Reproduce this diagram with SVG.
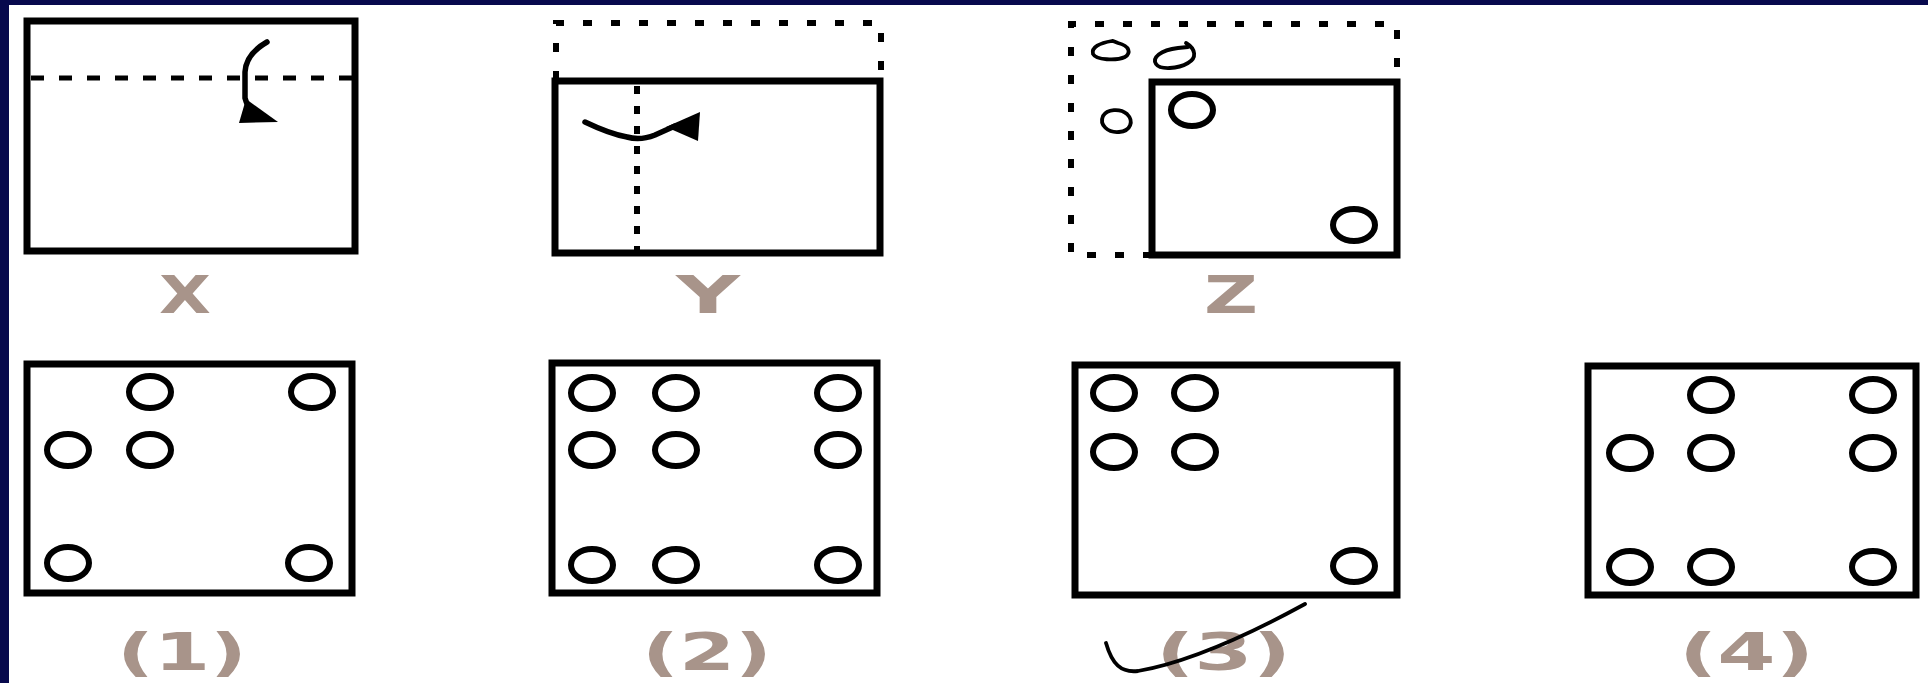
<svg xmlns="http://www.w3.org/2000/svg" width="1928" height="683" viewBox="0 0 1928 683">
<style>
.box{fill:none;stroke:#000;stroke-width:7}
.hole{fill:none;stroke:#000;stroke-width:6}
.dash{fill:none;stroke:#000;stroke-width:5;stroke-dasharray:13 15}
.dot{fill:none;stroke:#000;stroke-width:6;stroke-dasharray:9 19}
.pen{fill:none;stroke:#000;stroke-width:3.8;stroke-linecap:round}
.fold{fill:none;stroke:#000;stroke-width:5.5;stroke-linecap:round}
.lbl{font-family:"DejaVu Sans","Liberation Sans",sans-serif;font-weight:bold;font-size:52px;fill:#a8948a;text-anchor:start}
</style>
<rect width="1928" height="683" fill="#fff"/>
<rect x="0" y="0" width="1928" height="5" fill="#07094d"/>
<rect x="0" y="0" width="9" height="683" fill="#07094d"/>

<g id="nodeX">
<rect class="box" x="27" y="21" width="328" height="230"/>
<line class="dash" x1="31" y1="78" x2="352" y2="78"/>
<path class="fold" d="M267,42 Q246,54 245,72 L245,98 Q247,106 252,110"/>
<polygon points="239,123 278,122 246,99" fill="#000"/>
<text class="lbl" x="159" y="313" textLength="52" lengthAdjust="spacingAndGlyphs">X</text>
</g>

<g id="nodeY">
<path class="dot" d="M556,80 L556,23 L881,23 L881,80"/>
<rect class="box" x="555" y="81" width="325" height="172"/>
<line class="dot" x1="637" y1="86" x2="637" y2="250" style="stroke-dasharray:8 12"/>
<path class="fold" d="M585,122 Q610,134 627,137 Q640,141 655,135 L675,126"/>
<polygon points="666,127 700,112 698,141" fill="#000"/>
<text class="lbl" x="676" y="313" textLength="64" lengthAdjust="spacingAndGlyphs">Y</text>
</g>

<g id="nodeZ">
<path class="dot" d="M1152,255 L1071,255 L1071,24 L1397,24 L1397,80"/>
<rect class="box" x="1152" y="82" width="245" height="173"/>
<ellipse class="hole" cx="1192" cy="110" rx="21" ry="16"/>
<ellipse class="hole" cx="1354" cy="225" rx="21" ry="16"/>
<path class="pen" d="M1112,41 C1100,43 1091,47 1093,54 C1096,60 1116,61 1125,57 C1131,53 1130,46 1118,43 L1113,41"/>
<path class="pen" d="M1186,43 C1196,49 1197,58 1188,63 C1178,69 1160,70 1156,64 C1152,58 1160,50 1178,48 L1188,47"/>
<path class="pen" d="M1103,116 C1099,125 1108,133 1119,132 C1131,131 1134,121 1127,114 C1120,108 1107,109 1103,116 Z"/>
<text class="lbl" x="1204" y="313" textLength="54" lengthAdjust="spacingAndGlyphs">Z</text>
</g>

<g id="node1">
<rect class="box" x="27" y="364" width="325" height="229"/>
<ellipse class="hole" cx="150" cy="392" rx="21" ry="16"/>
<ellipse class="hole" cx="312" cy="392" rx="21" ry="16"/>
<ellipse class="hole" cx="68" cy="450" rx="21" ry="16"/>
<ellipse class="hole" cx="150" cy="450" rx="21" ry="16"/>
<ellipse class="hole" cx="68" cy="563" rx="21" ry="16"/>
<ellipse class="hole" cx="309" cy="563" rx="21" ry="16"/>
<text class="lbl" x="117" y="670" textLength="130" lengthAdjust="spacingAndGlyphs">(1)</text>
</g>

<g id="node2">
<rect class="box" x="552" y="363" width="325" height="230"/>
<ellipse class="hole" cx="592" cy="393" rx="21" ry="16"/>
<ellipse class="hole" cx="676" cy="393" rx="21" ry="16"/>
<ellipse class="hole" cx="838" cy="393" rx="21" ry="16"/>
<ellipse class="hole" cx="592" cy="450" rx="21" ry="16"/>
<ellipse class="hole" cx="676" cy="450" rx="21" ry="16"/>
<ellipse class="hole" cx="838" cy="450" rx="21" ry="16"/>
<ellipse class="hole" cx="592" cy="565" rx="21" ry="16"/>
<ellipse class="hole" cx="676" cy="565" rx="21" ry="16"/>
<ellipse class="hole" cx="838" cy="565" rx="21" ry="16"/>
<text class="lbl" x="642" y="670" textLength="130" lengthAdjust="spacingAndGlyphs">(2)</text>
</g>

<g id="node3">
<rect class="box" x="1075" y="365" width="322" height="230"/>
<ellipse class="hole" cx="1114" cy="393" rx="21" ry="16"/>
<ellipse class="hole" cx="1195" cy="393" rx="21" ry="16"/>
<ellipse class="hole" cx="1114" cy="452" rx="21" ry="16"/>
<ellipse class="hole" cx="1195" cy="452" rx="21" ry="16"/>
<ellipse class="hole" cx="1354" cy="566" rx="21" ry="16"/>
<text class="lbl" x="1156" y="670" textLength="135" lengthAdjust="spacingAndGlyphs">(3)</text>
<path class="pen" d="M1106,643 C1112,664 1121,673 1138,671 C1190,662 1250,634 1305,604"/>
</g>

<g id="node4">
<rect class="box" x="1588" y="366" width="328" height="229"/>
<ellipse class="hole" cx="1711" cy="395" rx="21" ry="16"/>
<ellipse class="hole" cx="1873" cy="395" rx="21" ry="16"/>
<ellipse class="hole" cx="1630" cy="453" rx="21" ry="16"/>
<ellipse class="hole" cx="1711" cy="453" rx="21" ry="16"/>
<ellipse class="hole" cx="1873" cy="453" rx="21" ry="16"/>
<ellipse class="hole" cx="1630" cy="567" rx="21" ry="16"/>
<ellipse class="hole" cx="1711" cy="567" rx="21" ry="16"/>
<ellipse class="hole" cx="1873" cy="567" rx="21" ry="16"/>
<text class="lbl" x="1679" y="670" textLength="135" lengthAdjust="spacingAndGlyphs">(4)</text>
</g>

<g id="connectors"></g>
</svg>
